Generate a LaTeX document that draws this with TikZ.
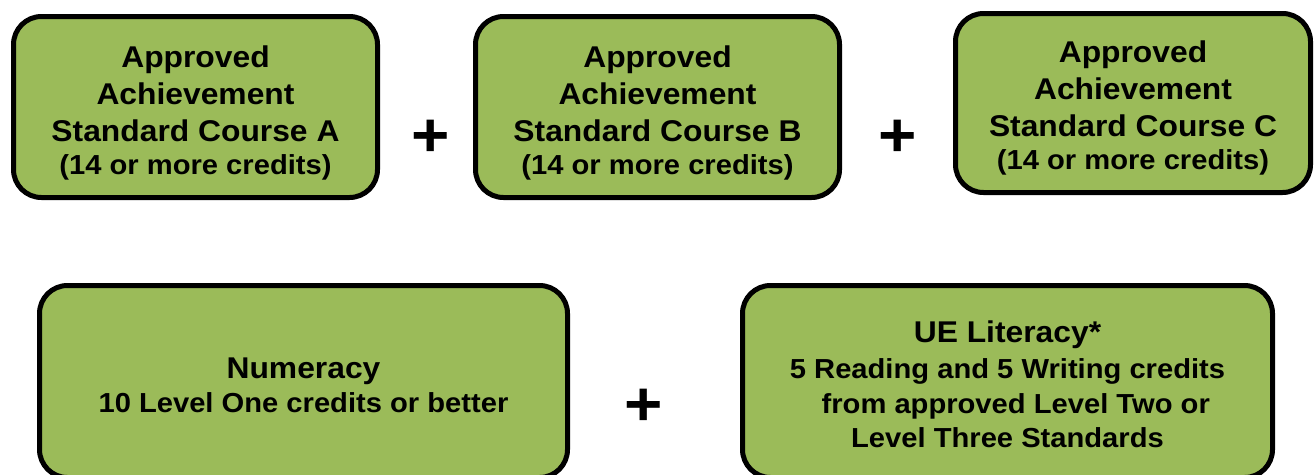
\documentclass[tikz,border=0pt]{standalone}
\usepackage{fontspec}
\setmainfont{Liberation Sans}[FakeStretch=1.06]
\definecolor{boxgreen}{HTML}{9BBB59}
\tikzset{
	credbox/.style={draw=black, line width=5pt, fill=boxgreen, rounded corners=28pt,
		align=center, font=\bfseries\fontsize{30}{37}\selectfont, inner sep=0pt},
	plussign/.style={font=\bfseries\fontsize{62}{62}\selectfont, inner sep=0pt}
}
\newcommand{\credline}[1]{{\fontsize{27.5}{33}\selectfont #1}}
\begin{document}
\begin{tikzpicture}[x=1pt, y=-1pt]
		\useasboundingbox (0, 0) rectangle (1314, 474);
		% three courses on top
		\node[credbox, minimum width=364, minimum height=181] (coursea) at (195.5, 107)
			{\rule{0pt}{34pt}Approved\\Achievement\\Standard Course A\\[-4pt]\credline{(14 or more credits)}};
		\node[credbox, minimum width=364, minimum height=181] (courseb) at (657.5, 107)
			{\rule{0pt}{34pt}Approved\\Achievement\\Standard Course B\\[-4pt]\credline{(14 or more credits)}};
		\node[credbox, minimum width=355, minimum height=179] (coursec) at (1133, 103)
			{\rule{0pt}{32pt}Approved\\Achievement\\Standard Course C\\[-4pt]\credline{(14 or more credits)}};
		\node[plussign] (plusab) at (431, 138) {+};
		\node[plussign] (plusbc) at (898, 138) {+};
		% numeracy and literacy below
		\node[credbox, minimum width=528, minimum height=192] (numeracy) at (303.5, 381.5)
			{\rule{0pt}{28pt}Numeracy\\[-3pt]\credline{10 Level One credits or better}};
		\node[credbox, minimum width=530, minimum height=192] (literacy) at (1007.5, 381.5)
			{\rule{0pt}{27pt}UE Literacy*\\[-1pt]\credline{5 Reading and 5 Writing credits}\\[-2pt]
			\credline{\hspace*{0.6em}from approved Level Two or}\\[-3pt]\credline{Level Three Standards}};
		\node[plussign] (plusnl) at (644, 407) {+};
	\end{tikzpicture}
\end{document}
